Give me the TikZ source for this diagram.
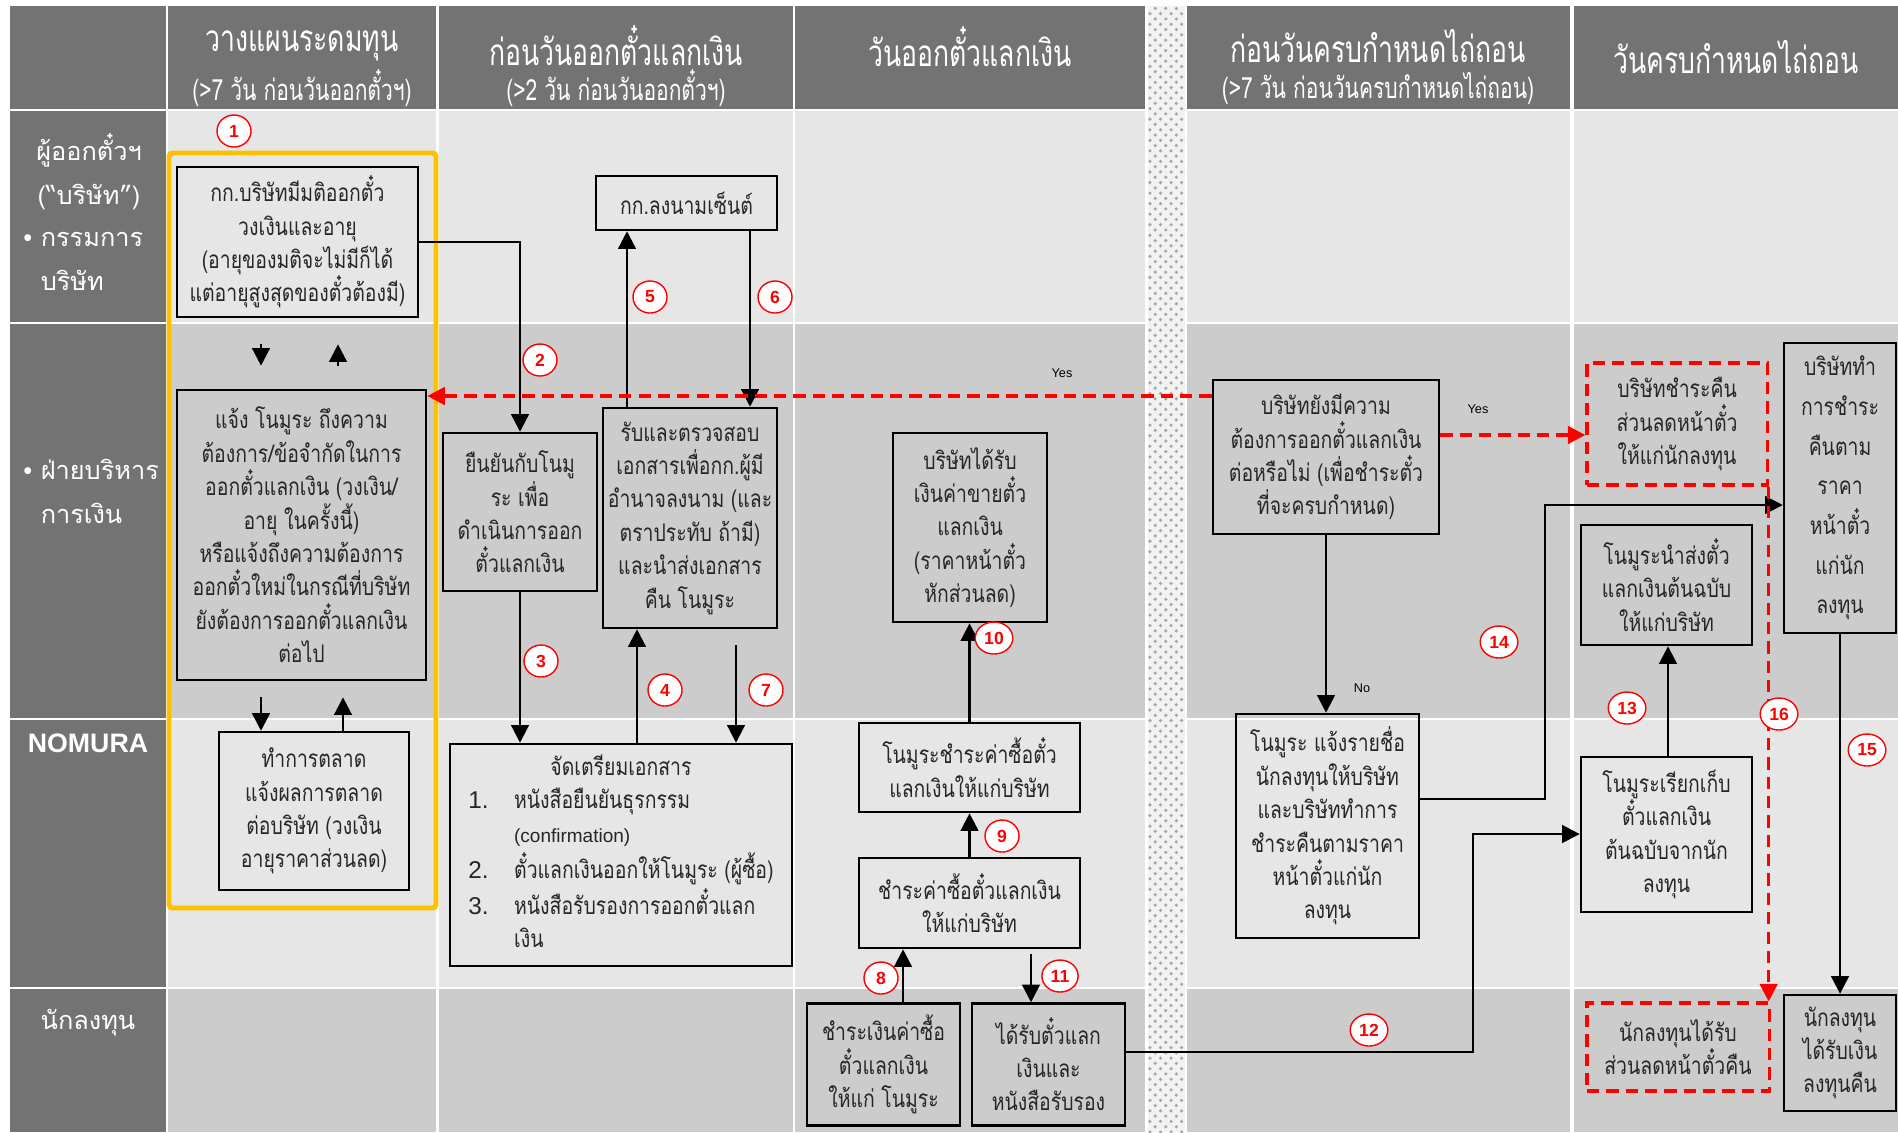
\documentclass[tikz,border=0pt]{standalone}
\usepackage{fontspec}
\setmainfont[Script=Thai]{Loma}
\newfontfamily\boxfont[Script=Thai,FakeStretch=0.8]{Loma}
\newfontfamily\headfont[Script=Thai,FakeStretch=0.72]{Loma}
\newfontfamily\numfont{Liberation Sans}
\usetikzlibrary{arrows.meta,shapes.geometric,patterns}
\definecolor{hdrgray}{RGB}{115,115,115}
\definecolor{rowlight}{RGB}{230,230,230}
\definecolor{rowdark}{RGB}{204,204,204}
\definecolor{planorange}{RGB}{255,192,0}
\definecolor{markred}{RGB}{255,0,0}
\newcommand\lanebullet{{\numfont\textbullet}}

\begin{document}
\begin{tikzpicture}[x=0.01cm,y=-0.01cm,
  box/.style={draw,line width=0.7pt,align=center,inner sep=1pt,text=black!85,
    font=\boxfont\fontsize{6.9}{9.5}\selectfont},
  redbox/.style={box,draw=markred,dash pattern=on 3.5pt off 2pt,line width=0.9pt},
  flow/.style={line width=0.7pt,-{Triangle[length=5pt,width=5pt]}},
  redflow/.style={color=markred,line width=0.9pt,dash pattern=on 3.5pt off 2pt,
    -{Triangle[length=5pt,width=5pt]}},
  stepnum/.style={ellipse,draw=markred,line width=0.4pt,fill=white,text=markred,
    inner sep=1pt,minimum width=0.34cm,minimum height=0.32cm,
    font=\numfont\bfseries\fontsize{5}{5}\selectfont},
  hdr/.style={text=white,font=\headfont\fontsize{10.5}{12}\selectfont},
  hdrsub/.style={text=white,font=\headfont\fontsize{8.3}{10}\selectfont},
  lane/.style={text=white,align=left,font=\fontsize{7.2}{12.5}\selectfont},
  yesno/.style={font=\numfont\fontsize{3.6}{4}\selectfont}]
\useasboundingbox (0,0) rectangle (1898,1132);

% swimlane background
\fill[hdrgray] (10,6) rectangle (166,109);
\foreach \xa/\xb in {168/436,439/793,795/1145,1187/1570,1574/1898}{
  \fill[hdrgray] (\xa,6) rectangle (\xb,109);
  \fill[rowlight] (\xa,111) rectangle (\xb,322);
  \fill[rowdark] (\xa,324) rectangle (\xb,718);
  \fill[rowlight] (\xa,720) rectangle (\xb,987);
  \fill[rowdark] (\xa,989) rectangle (\xb,1132);
}
\foreach \ya/\yb in {111/322,324/718,720/987,989/1132}
  \fill[hdrgray] (10,\ya) rectangle (166,\yb);
\fill[gray!10] (1148,6) rectangle (1185,1132);
\fill[pattern=crosshatch dots,pattern color=gray!70] (1148,6) rectangle (1185,1132);

\draw[planorange,line width=1.4pt,rounded corners=1pt] (169,153) rectangle (436,908);

% headers
\node[hdr] (h1) at (302,46) {วางแผนระดมทุน};
\node[hdrsub] (h1s) at (302,88) {(>7 วัน ก่อนวันออกตั๋วฯ)};
\node[hdr] (h2) at (616,46) {ก่อนวันออกตั๋วแลกเงิน};
\node[hdrsub] (h2s) at (616,88) {(>2 วัน ก่อนวันออกตั๋วฯ)};
\node[hdr] (h3) at (970,47) {วันออกตั๋วแลกเงิน};
\node[hdr] (h4) at (1378,46) {ก่อนวันครบกำหนดไถ่ถอน};
\node[hdrsub] (h4s) at (1378,88) {(>7 วัน ก่อนวันครบกำหนดไถ่ถอน)};
\node[hdr] (h5) at (1736,57) {วันครบกำหนดไถ่ถอน};

% lanes
\node[lane,align=center] (issuer) at (89,172) {ผู้ออกตั๋วฯ\\(“บริษัท”)};
\node[lane,anchor=west] (board) at (11,261) {\lanebullet\ กรรมการ\\\hphantom{\lanebullet\ }บริษัท};
\node[lane,anchor=west] (finance) at (11,491) {\lanebullet\ ฝ่ายบริหาร\\\hphantom{\lanebullet\ }การเงิน};
\node[text=white,font=\numfont\bfseries\fontsize{7.6}{9}\selectfont] (nomura) at (88,743) {NOMURA};
\node[lane] (investor) at (88,1023) {นักลงทุน};

% boxes
\node[box,minimum width=2.41cm,minimum height=1.5cm] (b1) at (297.5,242)
  {กก.บริษัทมีมติออกตั๋ว\\วงเงินและอายุ\\(อายุของมติจะไม่มีก็ได้\\แต่อายุสูงสุดของตั๋วต้องมี)};
\node[box,minimum width=2.49cm,minimum height=2.9cm] (b2) at (301.5,535)
  {แจ้ง โนมูระ ถึงความ\\ต้องการ/ข้อจำกัดในการ\\ออกตั๋วแลกเงิน (วงเงิน/\\อายุ ในครั้งนี้)\\หรือแจ้งถึงความต้องการ\\ออกตั๋วใหม่ในกรณีที่บริษัท\\ยังต้องการออกตั๋วแลกเงิน\\ต่อไป};
\node[box,minimum width=1.9cm,minimum height=1.58cm] (b3) at (314,811)
  {ทำการตลาด\\แจ้งผลการตลาด\\ต่อบริษัท (วงเงิน\\อายุราคาส่วนลด)};
\node[box,minimum width=1.54cm,minimum height=1.58cm] (b4) at (520,512)
  {ยืนยันกับโนมู\\ระ เพื่อ\\ดำเนินการออก\\ตั๋วแลกเงิน};
\node[box,minimum width=1.81cm,minimum height=0.54cm] (b5) at (686.5,203) {กก.ลงนามเซ็นต์};
\node[box,minimum width=1.74cm,minimum height=2.2cm] (b6) at (690,518)
  {รับและตรวจสอบ\\เอกสารเพื่อกก.ผู้มี\\อำนาจลงนาม (และ\\ตราประทับ ถ้ามี)\\และนำส่งเอกสาร\\คืน โนมูระ};
\node[box,minimum width=3.42cm,minimum height=2.22cm] (docs) at (621,855)
  {\begin{tabular}{@{}p{13pt}@{}l@{}}
   \multicolumn{2}{c}{จัดเตรียมเอกสาร}\\
   {\numfont 1.} & หนังสือยืนยันธุรกรรม\\
   & {\numfont\fontsize{5.4}{9.5}\selectfont (confirmation)}\\
   {\numfont 2.} & ตั๋วแลกเงินออกให้โนมูระ (ผู้ซื้อ)\\
   {\numfont 3.} & หนังสือรับรองการออกตั๋วแลก\\
   & เงิน
   \end{tabular}};
\node[box,minimum width=1.54cm,minimum height=1.89cm] (b8) at (970,527.5)
  {บริษัทได้รับ\\เงินค่าขายตั๋ว\\แลกเงิน\\(ราคาหน้าตั๋ว\\หักส่วนลด)};
\node[box,minimum width=2.21cm,minimum height=0.89cm] (b9) at (969.5,767.5)
  {โนมูระชำระค่าซื้อตั๋ว\\แลกเงินให้แก่บริษัท};
\node[box,minimum width=2.21cm,minimum height=0.9cm] (b10) at (969.5,903)
  {ชำระค่าซื้อตั๋วแลกเงิน\\ให้แก่บริษัท};
\node[box,minimum width=1.53cm,minimum height=1.22cm] (b11) at (883.5,1064.5)
  {ชำระเงินค่าซื้อ\\ตั๋วแลกเงิน\\ให้แก่ โนมูระ};
\node[box,minimum width=1.53cm,minimum height=1.22cm] (b12) at (1048.5,1064.5)
  {ได้รับตั๋วแลก\\เงินและ\\หนังสือรับรอง};
\node[box,minimum width=2.26cm,minimum height=1.54cm] (b13) at (1326,457)
  {บริษัทยังมีความ\\ต้องการออกตั๋วแลกเงิน\\ต่อหรือไม่ (เพื่อชำระตั๋ว\\ที่จะครบกำหนด)};
\node[box,minimum width=1.83cm,minimum height=2.24cm] (b14) at (1327.5,826)
  {โนมูระ แจ้งรายชื่อ\\นักลงทุนให้บริษัท\\และบริษัททำการ\\ชำระคืนตามราคา\\หน้าตั๋วแก่นัก\\ลงทุน};
\node[redbox,minimum width=1.8cm,minimum height=1.22cm] (b15) at (1677,424)
  {บริษัทชำระคืน\\ส่วนลดหน้าตั๋ว\\ให้แก่นักลงทุน};
\node[box,minimum width=1.71cm,minimum height=1.2cm] (b16) at (1666.5,585)
  {โนมูระนำส่งตั๋ว\\แลกเงินต้นฉบับ\\ให้แก่บริษัท};
\node[box,minimum width=1.12cm,minimum height=2.9cm,font=\boxfont\fontsize{6.9}{11.3}\selectfont] (b17) at (1840,488)
  {บริษัททำ\\การชำระ\\คืนตาม\\ราคา\\หน้าตั๋ว\\แก่นัก\\ลงทุน};
\node[box,minimum width=1.71cm,minimum height=1.55cm] (b18) at (1666.5,834.5)
  {โนมูระเรียกเก็บ\\ตั๋วแลกเงิน\\ต้นฉบับจากนัก\\ลงทุน};
\node[redbox,minimum width=1.82cm,minimum height=0.88cm] (b19) at (1678,1047)
  {นักลงทุนได้รับ\\ส่วนลดหน้าตั๋วคืน};
\node[box,minimum width=1.12cm,minimum height=1.16cm] (b20) at (1840,1053)
  {นักลงทุน\\ได้รับเงิน\\ลงทุนคืน};

% connectors
\draw[flow,shorten <=0.26cm,shorten >=0.23cm] (261,0 |- b1.south) -- (261,0 |- b2.north);
\draw[flow,shorten <=0.23cm,shorten >=0.26cm] (338,0 |- b2.north) -- (338,0 |- b1.south);
\draw[flow,shorten <=0.16cm] (261,0 |- b2.south) -- (261,0 |- b3.north);
\draw[flow,shorten >=0.16cm] (343,0 |- b3.north) -- (343,0 |- b2.south);
\draw[flow] (b1.east) -| (b4.north);
\draw[flow] (b4.south) -- (b4.south |- docs.north);
\draw[flow] (637,0 |- docs.north) -- (637,0 |- b6.south);
\draw[flow] (627,0 |- b6.north) -- (627,0 |- b5.south);
\draw[flow] (750,0 |- b5.south) -- (750,0 |- b6.north);
\coordinate (s7) at (736,645);
\draw[flow] (s7) -- (s7 |- docs.north);
\draw[flow] (b9.north) -- (b9.north |- b8.south);
\draw[flow] (b10.north) -- (b10.north |- b9.south);
\draw[flow] (903,0 |- b11.north) -- (903,0 |- b10.south);
\coordinate (s11) at (1031,954);
\draw[flow] (s11) -- (s11 |- b12.north);
\draw[flow] (b12.east |- 0,1052) -| (1473,834) -- (b18.west |- 0,834);
\draw[flow] (b13.south) -- (b13.south |- b14.north);
\draw[flow] (b14.east |- 0,799) -| (1545,505) -- (b17.west |- 0,505);
\draw[flow] (1668,0 |- b18.north) -- (1668,0 |- b16.south);
\draw[flow] (b17.south) -- (b17.south |- b20.north);
\draw[redflow] (b13.west |- 0,396) -- (b2.east |- 0,396);
\draw[redflow] (b13.east |- 0,435) -- (b15.west |- 0,435);
\draw[redflow] (b15.south east) -- (b15.south east |- b19.north);

\node[yesno] (yes1) at (1062,373) {Yes};
\node[yesno] (yes2) at (1478,409) {Yes};
\node[yesno] (no1) at (1362,688) {No};

% step numbers
\node[stepnum] (n1) at (234,131) {1};
\node[stepnum] (n2) at (540,360) {2};
\node[stepnum] (n3) at (541,661) {3};
\node[stepnum] (n4) at (665,690) {4};
\node[stepnum] (n5) at (650,297) {5};
\node[stepnum] (n6) at (775,297) {6};
\node[stepnum] (n7) at (766,690) {7};
\node[stepnum] (n8) at (881,978) {8};
\node[stepnum] (n9) at (1002,836) {9};
\node[stepnum] (n10) at (994,638) {10};
\node[stepnum] (n11) at (1060,976) {11};
\node[stepnum] (n12) at (1369,1030) {12};
\node[stepnum] (n13) at (1627,708) {13};
\node[stepnum] (n14) at (1499,642) {14};
\node[stepnum] (n15) at (1867,750) {15};
\node[stepnum] (n16) at (1779,714) {16};
\end{tikzpicture}
\end{document}
